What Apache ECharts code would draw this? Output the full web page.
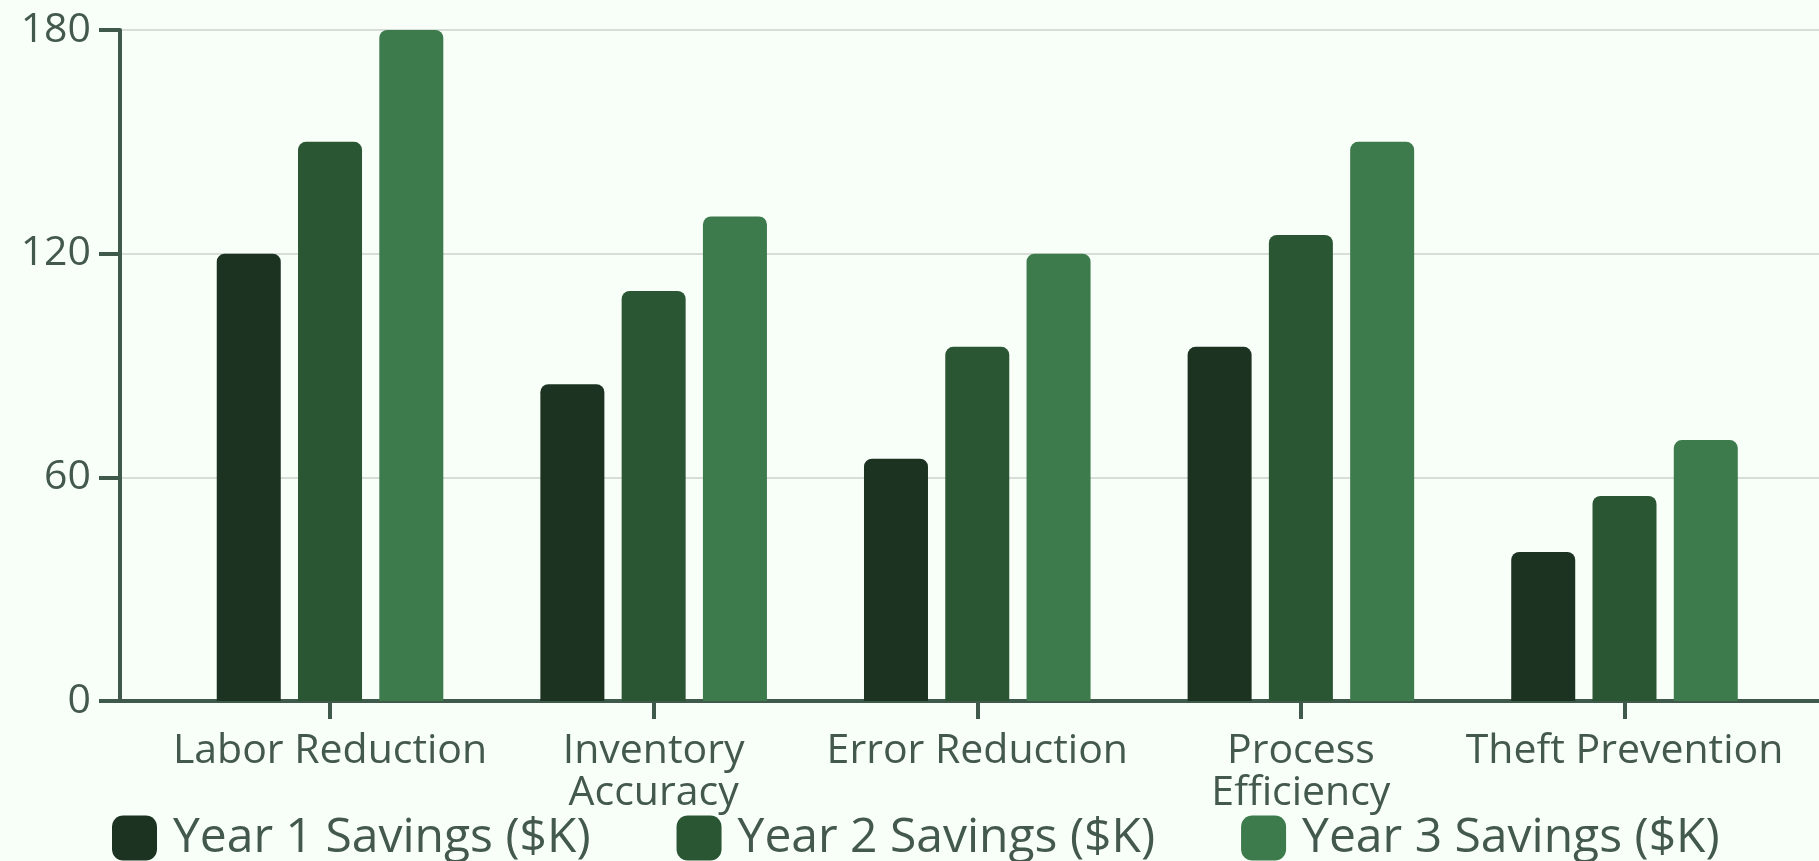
<!DOCTYPE html>
<html>
<head>
<meta charset="utf-8">
<script src="https://cdn.jsdelivr.net/npm/echarts@6/dist/echarts.min.js"></script>
<style>
  html, body { margin: 0; padding: 0; background: #f8fff9; }
  #main { width: 1819px; height: 861px; }
</style>
</head>
<body>
<div id="main"></div>
<script>
var categories = ['Labor Reduction', 'Inventory\nAccuracy', 'Error Reduction', 'Process\nEfficiency', 'Theft Prevention'];
var seriesNames = ['Year 1 Savings ($K)', 'Year 2 Savings ($K)', 'Year 3 Savings ($K)'];
var year1 = [120, 85, 65, 95, 40];
var year2 = [150, 110, 95, 125, 55];
var year3 = [180, 130, 120, 150, 70];
var colors = ['#1b3320', '#2a5633', '#3d7a4c'];

var myChart = echarts.init(document.getElementById('main'));

var textColor = '#44594e';
var axisColor = '#3f5a4a';
// category positions, padded like a band scale
var catIndex = categories.map(function (c, i) { return i; });

function makeBar(name, data) {
    return {
        name: name,
        type: 'bar',
        barWidth: 64,
        barGap: '27%',
        itemStyle: { borderRadius: [8, 8, 0, 0] },
        data: data.map(function (v, i) { return [catIndex[i], v]; })
    };
}

var option = {
    backgroundColor: '#f8fff9',
    color: colors,
    textStyle: { fontFamily: 'Open Sans' },
    legend: {
        data: seriesNames,
        left: 107,
        top: 809,
        itemWidth: 45,
        itemHeight: 45,
        itemGap: 86,
        textStyle: { color: textColor, fontSize: 48, lineHeight: 45, fontFamily: 'Open Sans', padding: [0, 0, 0, 11] },
        icon: 'roundRect'
    },
    grid: {
        left: 120,
        right: 0,
        top: 30,
        bottom: 160
    },
    xAxis: {
        type: 'value',
        min: -0.649,
        max: 4.601,
        splitLine: { show: false },
        axisLine: { lineStyle: { color: axisColor, width: 4 } },
        axisTick: { show: true, customValues: catIndex, length: 18, lineStyle: { color: axisColor, width: 4 } },
        axisLabel: {
            customValues: catIndex,
            formatter: function (v) { return categories[v]; },
            color: textColor, fontSize: 41, lineHeight: 42, margin: 29
        }
    },
    yAxis: {
        type: 'value',
        min: 0,
        max: 180,
        interval: 60,
        axisLine: { show: true, onZero: false, lineStyle: { color: axisColor, width: 4 } },
        axisTick: { show: true, length: 21, lineStyle: { color: axisColor, width: 4 } },
        axisLabel: { color: textColor, fontSize: 41, margin: 29 },
        splitLine: { lineStyle: { color: '#d8ddd8', width: 2 } }
    },
    series: [
        makeBar(seriesNames[0], year1),
        makeBar(seriesNames[1], year2),
        makeBar(seriesNames[2], year3)
    ]
};

myChart.setOption(option);
</script>
</body>
</html>
